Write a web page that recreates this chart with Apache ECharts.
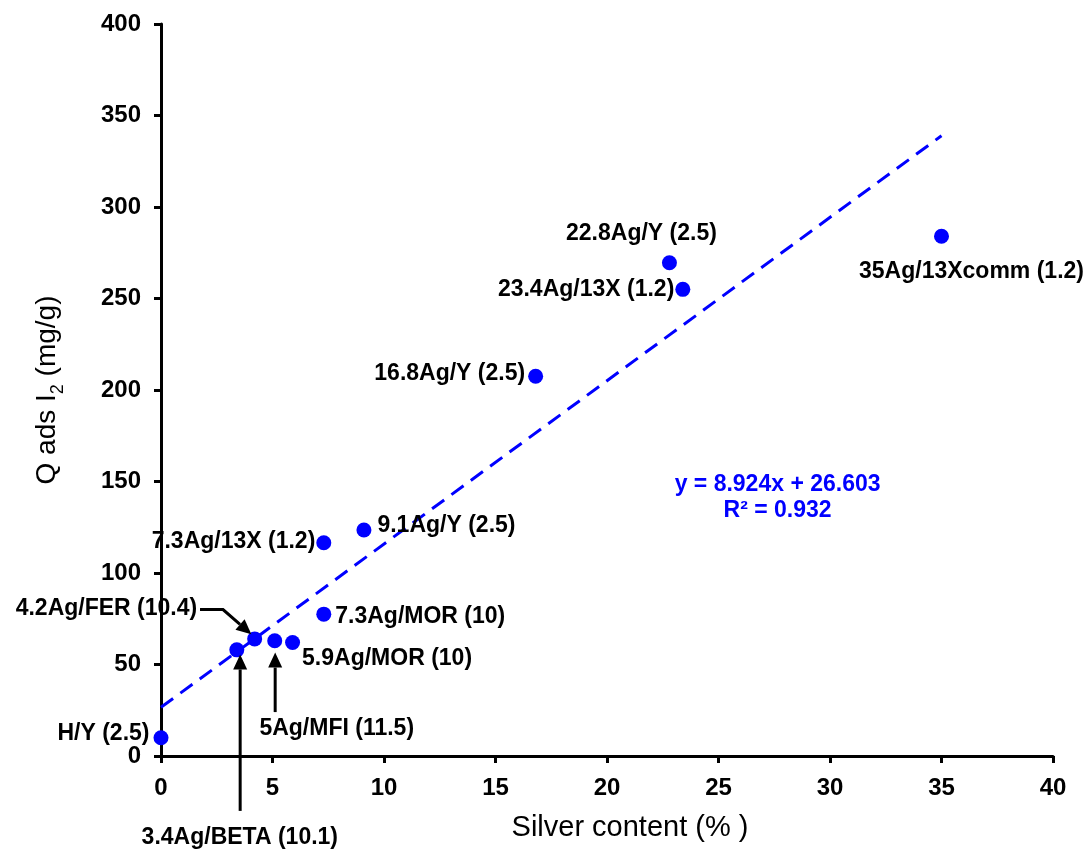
<!DOCTYPE html>
<html><head><meta charset="utf-8">
<script src="https://cdn.jsdelivr.net/npm/echarts@6/dist/echarts.min.js"></script>
<style>html,body{margin:0;padding:0;background:#fff}#c{width:1092px;height:853px}</style>
</head><body><div id="c"></div>
<script>
// ---- data ----
const silver = [0, 3.4, 4.2, 5.1, 5.9, 7.3, 7.3, 9.1, 16.8, 22.8, 23.4, 35];
const qads   = [10, 58, 64, 63, 62, 77.5, 116.5, 123.5, 207.5, 269.5, 255, 284];
const names  = ['H/Y (2.5)', '3.4Ag/BETA (10.1)', '4.2Ag/FER (10.4)', '5Ag/MFI (11.5)',
                '5.9Ag/MOR (10)', '7.3Ag/MOR (10)', '7.3Ag/13X (1.2)', '9.1Ag/Y (2.5)',
                '16.8Ag/Y (2.5)', '22.8Ag/Y (2.5)', '23.4Ag/13X (1.2)', '35Ag/13Xcomm (1.2)'];
const trendX = [0, 35];
const trendY = [26.603, 338.943];
const equation = ['y = 8.924x + 26.603', 'R² = 0.932'];

// ---- layout / style (kept separate from data) ----
const FONT = '"Liberation Sans", Arial, sans-serif';
const labelLayout = [
  ['left', -4, -4], ['inside', 3, 188], ['left', -50, -30], ['inside', 62, 88],
  ['right', 2, 16], ['right', 4, 2], ['left', -1, -1], ['right', 6, -4],
  ['left', -3, -3], ['inside', -28, -29], ['left', -1, 0], ['inside', 30, 35]
];
// annotation arrows in data coordinates (last point = arrow tip)
const arrows = [
  [[3.55, -30], [3.55, 55.5]],
  [[5.12, 24], [5.12, 56.5]],
  [[1.75, 80], [2.78, 80], [4.05, 66.5]]
];
const eqAnchor = [27.65, 141];

const chart = echarts.init(document.getElementById('c'));
const pts = silver.map((x, i) => ({
  value: [x, qads[i]],
  label: {
    show: true, formatter: names[i], position: labelLayout[i][0], distance: 0,
    offset: [labelLayout[i][1], labelLayout[i][2]],
    color: '#000', fontWeight: 'bold', fontSize: 23, fontFamily: FONT
  }
}));

const axisCommon = {
  type: 'value',
  axisLine: { show: true, onZero: true, lineStyle: { color: '#000', width: 3 } },
  axisTick: { show: true, inside: false, length: 7, lineStyle: { color: '#000', width: 3 } },
  splitLine: { show: false },
  nameLocation: 'middle'
};

chart.setOption({
  animation: false,
  backgroundColor: '#fff',
  grid: { left: 161, right: 39, top: 24, bottom: 97 },
  xAxis: Object.assign({}, axisCommon, {
    min: 0, max: 40, interval: 5,
    axisLabel: { color: '#000', fontSize: 24, fontWeight: 'bold', fontFamily: FONT, margin: 20 },
    name: 'Silver content (% )', nameGap: 57,
    nameTextStyle: { color: '#000', fontSize: 29, fontFamily: FONT, padding: [0, 0, 0, 46] }
  }),
  yAxis: Object.assign({}, axisCommon, {
    min: 0, max: 400, interval: 50,
    axisLabel: { color: '#000', fontSize: 24, fontWeight: 'bold', fontFamily: FONT, margin: 20 },
    name: '{t|Q ads I}{s|2}{t| (mg/g)}', nameGap: 100, nameRotate: 90,
    nameTextStyle: {
      color: '#000', fontFamily: FONT,
      rich: {
        t: { fontSize: 28, fontFamily: FONT, color: '#000' },
        s: { fontSize: 18, fontFamily: FONT, color: '#000', verticalAlign: 'bottom', padding: [0, 0, -6, 0] }
      }
    }
  }),
  series: [
    {
      type: 'line', data: trendX.map((x, i) => [x, trendY[i]]),
      symbol: 'none', z: 1, silent: true,
      lineStyle: { color: '#0000ff', width: 3, type: [15, 9] }
    },
    {
      type: 'scatter', data: pts, symbolSize: 15, z: 3,
      itemStyle: { color: '#0000ff', opacity: 1 }
    }
  ]
});

function buildGraphics() {
  const g = [];
  arrows.forEach(a => {
    const px = a.map(p => chart.convertToPixel({ gridIndex: 0 }, p));
    const n = px.length;
    const tip = px[n - 1], prev = px[n - 2];
    const dx = tip[0] - prev[0], dy = tip[1] - prev[1];
    const L = Math.hypot(dx, dy), ux = dx / L, uy = dy / L;
    const len = 15, hw = 7;
    const base = [tip[0] - ux * len, tip[1] - uy * len];
    const linePts = px.slice(0, n - 1).concat([base]);
    g.push({ type: 'polyline', z: 5, shape: { points: linePts },
             style: { stroke: '#000', lineWidth: 3, fill: null } });
    g.push({ type: 'polygon', z: 5, shape: { points: [tip,
             [base[0] - uy * hw, base[1] + ux * hw], [base[0] + uy * hw, base[1] - ux * hw]] },
             style: { fill: '#000' } });
  });
  const e = chart.convertToPixel({ gridIndex: 0 }, eqAnchor);
  g.push({ type: 'text', z: 6, x: e[0], y: e[1],
    style: { text: equation.join('\n'), fill: '#0000ff', font: 'bold 23px ' + FONT,
             align: 'center', verticalAlign: 'middle', textAlign: 'center',
             textVerticalAlign: 'middle', lineHeight: 26 } });
  chart.setOption({ graphic: g });
}
buildGraphics();
</script>
</body></html>
